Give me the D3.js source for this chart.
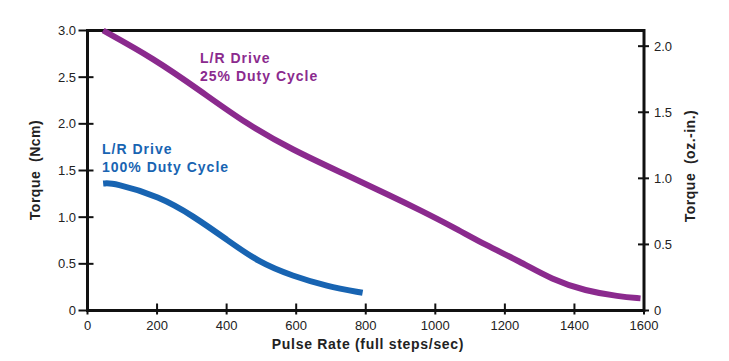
<!DOCTYPE html>
<html>
<head>
<meta charset="utf-8">
<script src="https://cdn.jsdelivr.net/npm/d3@7"></script>
<style>
  body { margin: 0; background: #fff; }
  text { font-family: "Liberation Sans", Arial, sans-serif; fill: #222; }
</style>
</head>
<body>
<svg id="chart" width="729" height="361"></svg>
<script>
// pulse rate (full steps/sec) vs torque (Ncm)
const purpleRate   = [45, 190, 322, 456, 590, 734, 877, 954, 1049, 1145, 1241, 1336, 1432, 1528, 1590];
const purpleTorque = [3.0, 2.70, 2.36, 2.0, 1.72, 1.47, 1.22, 1.08, 0.90, 0.70, 0.53, 0.33, 0.21, 0.15, 0.13];
const blueRate     = [45, 74, 208, 305, 400, 495, 590, 687, 791];
const blueTorque   = [1.36, 1.37, 1.22, 1.01, 0.76, 0.51, 0.37, 0.26, 0.19];

const xTicks      = [0, 200, 400, 600, 800, 1000, 1200, 1400, 1600];
const leftTicks   = [0, 0.5, 1.0, 1.5, 2.0, 2.5, 3.0];
const rightTicks  = [0, 0.5, 1.0, 1.5, 2.0];

const purple = "#8b2a8e";
const blue   = "#1864b2";

const svg = d3.select("#chart");

const x = d3.scaleLinear().domain([0, 1600]).range([87.5, 644]);
const y = d3.scaleLinear().domain([0, 3.0]).range([310.5, 30.5]);
// right axis (oz.-in.) shares the same pixel range
const yR = d3.scaleLinear().domain([0, 3.0 / 1.416]).range([310.5, 30.5]);

function fmt(v) { return v === 0 ? "0" : d3.format(".1f")(v); }

// frame
svg.append("rect")
    .attr("x", x(0)).attr("y", y(3))
    .attr("width", x(1600) - x(0)).attr("height", y(0) - y(3))
    .attr("fill", "none").attr("stroke", "#111").attr("stroke-width", 3);

// x ticks
const gx = svg.append("g");
xTicks.forEach(function(t) {
    gx.append("line")
        .attr("x1", x(t)).attr("x2", x(t))
        .attr("y1", y(0) - 7).attr("y2", y(0) + 4)
        .attr("stroke", "#111").attr("stroke-width", 2);
    gx.append("text")
        .attr("x", x(t)).attr("y", 330)
        .attr("text-anchor", "middle")
        .attr("font-size", 13)
        .text(t);
});

// left ticks
const gl = svg.append("g");
leftTicks.forEach(function(t) {
    gl.append("line")
        .attr("x1", x(0) - 9).attr("x2", x(0) + 6)
        .attr("y1", y(t)).attr("y2", y(t))
        .attr("stroke", "#111").attr("stroke-width", 2);
    gl.append("text")
        .attr("x", 76).attr("y", y(t) + 4.5)
        .attr("text-anchor", "end")
        .attr("font-size", 13)
        .text(fmt(t));
});

// right ticks
const gr = svg.append("g");
rightTicks.forEach(function(t) {
    gr.append("line")
        .attr("x1", x(1600) - 6).attr("x2", x(1600) + 5)
        .attr("y1", yR(t)).attr("y2", yR(t))
        .attr("stroke", "#111").attr("stroke-width", 2);
    gr.append("text")
        .attr("x", 654).attr("y", yR(t) + 4.5)
        .attr("text-anchor", "start")
        .attr("font-size", 13)
        .text(fmt(t));
});

// axis titles
svg.append("text")
    .attr("x", 368).attr("y", 349)
    .attr("text-anchor", "middle")
    .attr("font-size", 14).attr("font-weight", "bold")
    .attr("letter-spacing", 0.7)
    .text("Pulse Rate (full steps/sec)");

svg.append("text")
    .attr("transform", "translate(40,170) rotate(-90)")
    .attr("text-anchor", "middle")
    .attr("font-size", 14).attr("font-weight", "bold")
    .attr("letter-spacing", 0.5)
    .attr("xml:space", "preserve")
    .text("Torque  (Ncm)");

svg.append("text")
    .attr("transform", "translate(695,166) rotate(-90)")
    .attr("text-anchor", "middle")
    .attr("font-size", 14).attr("font-weight", "bold")
    .attr("letter-spacing", 0.5)
    .attr("xml:space", "preserve")
    .text("Torque  (oz.-in.)");

// curves
const line = d3.line()
    .x(function(d) { return x(d[0]); })
    .y(function(d) { return y(d[1]); })
    .curve(d3.curveBasis);

svg.append("path")
    .datum(d3.zip(purpleRate, purpleTorque))
    .attr("d", line)
    .attr("fill", "none").attr("stroke", purple).attr("stroke-width", 6);

svg.append("path")
    .datum(d3.zip(blueRate, blueTorque))
    .attr("d", line)
    .attr("fill", "none").attr("stroke", blue).attr("stroke-width", 6);

// curve labels
function label(lines, px, py, color) {
    lines.forEach(function(s, i) {
        svg.append("text")
            .attr("x", px).attr("y", py + i * 18)
            .attr("font-size", 14).attr("font-weight", "bold")
            .attr("letter-spacing", 1)
            .style("fill", color)
            .text(s);
    });
}
label(["L/R Drive", "25% Duty Cycle"], 200, 63, purple);
label(["L/R Drive", "100% Duty Cycle"], 102, 154, blue);
</script>
</body>
</html>
